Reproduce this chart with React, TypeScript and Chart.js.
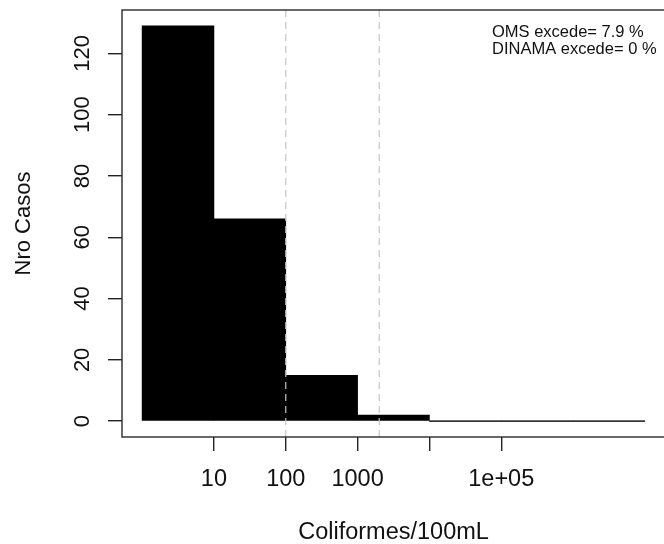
import React, { useEffect, useRef } from 'react';
import { Chart, registerables } from 'chart.js';

Chart.register(...registerables);

// ---- data ----
const binEdges = [1, 10, 100, 1000, 10000, 100000, 1000000, 10000000];
const binCounts = [129, 66, 15, 2, 0, 0, 0];
const xTickValues = [10, 100, 1000, 10000, 100000];
const xTickLabels = ['10', '100', '1000', '', '1e+05'];
const yTickValues = [0, 20, 40, 60, 80, 100, 120];
const limitValues = [100, 2000];
const noteLines = ['OMS excede= 7.9 %', 'DINAMA excede= 0 %'];
const xTitle = 'Coliformes/100mL';
const yTitle = 'Nro Casos';

const FONT = "'Liberation Sans', Arial, Helvetica, sans-serif";

export default function App() {
  const ref = useRef<HTMLCanvasElement | null>(null);

  useEffect(() => {
    if (!ref.current) return;
    const logEdges = binEdges.map((e) => Math.log10(e));
    const xLo = logEdges[0];
    const xHi = logEdges[logEdges.length - 1];
    const xPad = (xHi - xLo) * 0.04;
    const yMaxData = Math.max(...binCounts);
    const yLo = -yMaxData * 0.04;
    const yHi = yMaxData * 1.04;

    const barData = binCounts.map((c, i) => ({
      x: (logEdges[i] + logEdges[i + 1]) / 2,
      y: c,
    }));
    const zeroLine: { x: number; y: number }[] = [];
    binCounts.forEach((c, i) => {
      if (c === 0) {
        zeroLine.push({ x: logEdges[i], y: 0 });
        zeroLine.push({ x: logEdges[i + 1], y: 0 });
      }
    });

    const limitSets = limitValues.map((v) => ({
      type: 'line' as const,
      data: [
        { x: Math.log10(v), y: yLo },
        { x: Math.log10(v), y: yHi },
      ],
      borderColor: '#c4c4c4',
      borderWidth: 1.2,
      borderDash: [7, 5],
      pointRadius: 0,
      fill: false,
      order: 0,
    }));

    const overlay = {
      id: 'rOverlay',
      afterDraw(chart: any) {
        const { ctx, chartArea, scales } = chart;
        ctx.save();
        // box
        ctx.strokeStyle = '#2a2a2a';
        ctx.lineWidth = 1.4;
        ctx.strokeRect(chartArea.left, chartArea.top, chartArea.right - chartArea.left, chartArea.bottom - chartArea.top);
        // y tick labels (rotated like R)
        ctx.fillStyle = '#111';
        ctx.font = `22px ${FONT}`;
        ctx.textAlign = 'center';
        ctx.textBaseline = 'middle';
        yTickValues.forEach((v) => {
          const py = scales.y.getPixelForValue(v);
          ctx.save();
          ctx.translate(83, py);
          ctx.rotate(-Math.PI / 2);
          ctx.fillText(String(v), 0, 0);
          ctx.restore();
        });
        // notes
        ctx.font = `16.5px ${FONT}`;
        ctx.textAlign = 'left';
        ctx.textBaseline = 'alphabetic';
        noteLines.forEach((t, i) => {
          ctx.fillText(t, 492, 37 + i * 17);
        });
        ctx.restore();
      },
    };

    const chart = new Chart(ref.current, {
      type: 'bar',
      data: {
        datasets: [
          ...limitSets,
          {
            type: 'line' as const,
            data: zeroLine,
            borderColor: '#1a1a1a',
            borderWidth: 1.2,
            pointRadius: 0,
            fill: false,
            order: 1,
          },
          {
            type: 'bar' as const,
            data: barData,
            backgroundColor: '#000',
            borderColor: '#000',
            borderWidth: 0,
            barPercentage: 1,
            categoryPercentage: 1,
            order: 2,
          },
        ] as any,
      },
      options: {
        animation: false,
        responsive: false,
        events: [],
        layout: { padding: { top: 10, right: 7, left: 0, bottom: 0 } },
        plugins: { legend: { display: false }, tooltip: { enabled: false } },
        scales: {
          x: {
            type: 'linear',
            offset: false,
            min: xLo - xPad,
            max: xHi + xPad,
            afterBuildTicks: (scale: any) => {
              scale.ticks = xTickValues.map((v) => ({ value: Math.log10(v) }));
            },
            afterFit: (scale: any) => {
              scale.height = 110;
            },
            ticks: {
              autoSkip: false,
              maxRotation: 0,
              minRotation: 0,
              padding: 14,
              color: '#111',
              font: { family: FONT, size: 23.5 },
              callback: (value: any) => {
                const idx = xTickValues.findIndex((v) => Math.abs(Math.log10(v) - value) < 1e-9);
                return idx >= 0 ? xTickLabels[idx] : '';
              },
            },
            grid: {
              display: true,
              offset: false,
              drawOnChartArea: false,
              drawTicks: true,
              tickLength: 14,
              tickColor: '#222',
              lineWidth: 1.4,
            },
            border: { display: false },
            title: {
              display: true,
              text: xTitle,
              color: '#111',
              font: { family: FONT, size: 23.5 },
              padding: { top: 0, bottom: 0 },
            },
          },
          y: {
            type: 'linear',
            min: yLo,
            max: yHi,
            afterBuildTicks: (scale: any) => {
              scale.ticks = yTickValues.map((v) => ({ value: v }));
            },
            afterFit: (scale: any) => {
              scale.width = 122;
            },
            ticks: { display: false },
            grid: {
              display: true,
              offset: false,
              drawOnChartArea: false,
              drawTicks: true,
              tickLength: 14,
              tickColor: '#222',
              lineWidth: 1.4,
            },
            border: { display: false },
            title: {
              display: true,
              text: yTitle,
              color: '#111',
              font: { family: FONT, size: 22 },
              padding: { top: 11, bottom: 0 },
            },
          },
        },
      } as any,
      plugins: [overlay],
    });
    return () => chart.destroy();
  }, []);

  return (
    <div
      style={{
        position: 'fixed',
        left: 0,
        top: 0,
        width: 664,
        height: 544,
        overflow: 'hidden',
        background: '#fff',
      }}
    >
      <canvas ref={ref} width={672} height={547} style={{ display: 'block', width: 672, height: 547 }} />
    </div>
  );
}
